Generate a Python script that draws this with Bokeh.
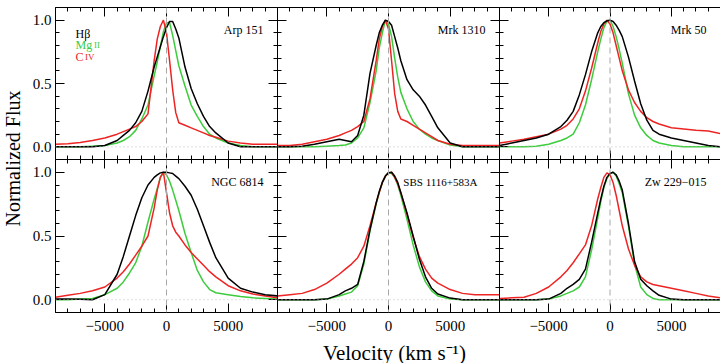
import math
from bokeh.plotting import figure
from bokeh.models import Range1d, LinearAxis, FixedTicker, Span, Label
from bokeh.layouts import gridplot, row, column
from bokeh.embed import file_html
from bokeh.resources import INLINE
from bokeh.core.properties import value

FONT = "Liberation Serif"
C_HB = "#000000"
C_MG = "#3ccc3c"
C_CIV = "#ee2424"

# velocity grid (km/s)
V = [-9000, -8000, -7000, -6000, -5000, -4000, -3500, -3000, -2500, -2000, -1500,
     -1000, -750, -500, -250, 0, 250, 500, 750, 1000, 1500, 2000, 2500, 3000,
     3500, 4000, 5000, 6000, 7000, 8000, 9000]

names = ["Arp 151", "Mrk 1310", "Mrk 50", "NGC 6814", "SBS 1116+583A", "Zw 229\u2212015"]
name_inset = [14, 14, 14, 14, 22, 14]
name_size = ["12px", "12px", "12px", "12px", "11px", "12px"]

hb_arp151 = [0, 0, 0, 0, 0.01, 0.05, 0.09, 0.13, 0.19, 0.28, 0.44, 0.63, 0.71, 0.79, 0.87, 0.94, 0.99, 0.99, 0.93, 0.86, 0.63, 0.46, 0.34, 0.24, 0.16, 0.11, 0.03, 0, 0, 0, 0]
mg_arp151 = [0, 0, 0, 0.005, 0.01, 0.03, 0.05, 0.08, 0.13, 0.22, 0.33, 0.56, 0.67, 0.79, 0.91, 0.98, 0.98, 0.88, 0.76, 0.64, 0.48, 0.33, 0.24, 0.16, 0.1, 0.07, 0.03, 0.01, 0, 0, 0]
civ_arp151 = [0.02, 0.025, 0.035, 0.05, 0.07, 0.1, 0.12, 0.14, 0.16, 0.2, 0.26, 0.68, 0.85, 0.95, 1.0, 0.9, 0.68, 0.45, 0.27, 0.19, 0.17, 0.15, 0.13, 0.11, 0.09, 0.075, 0.045, 0.03, 0.02, 0.02, 0.02]

hb_mrk1310 = [0, 0, 0.005, 0.02, 0.04, 0.06, 0.05, 0.04, 0.09, 0.25, 0.58, 0.8, 0.9, 0.96, 1.0, 0.99, 0.96, 0.87, 0.78, 0.68, 0.53, 0.45, 0.4, 0.33, 0.24, 0.15, 0.03, 0, 0, 0, 0]
mg_mrk1310 = [0, 0, 0, 0, 0.005, 0.01, 0.015, 0.03, 0.07, 0.15, 0.35, 0.6, 0.78, 0.9, 1.0, 0.97, 0.87, 0.7, 0.55, 0.43, 0.3, 0.2, 0.14, 0.1, 0.07, 0.05, 0.015, 0, 0, 0, 0]
civ_mrk1310 = [0.01, 0.01, 0.02, 0.04, 0.06, 0.09, 0.11, 0.13, 0.16, 0.2, 0.38, 0.68, 0.85, 0.95, 1.0, 0.93, 0.68, 0.42, 0.28, 0.22, 0.2, 0.17, 0.14, 0.11, 0.08, 0.05, 0.02, 0.01, 0.01, 0.01, 0.01]

hb_mrk50 = [0.01, 0.03, 0.05, 0.07, 0.1, 0.16, 0.21, 0.28, 0.41, 0.57, 0.75, 0.9, 0.95, 0.98, 0.995, 1.0, 0.99, 0.96, 0.92, 0.87, 0.71, 0.52, 0.34, 0.21, 0.13, 0.1, 0.07, 0.05, 0.03, 0.01, 0]
mg_mrk50 = [0, 0, 0, 0.005, 0.02, 0.05, 0.07, 0.1, 0.19, 0.33, 0.53, 0.75, 0.85, 0.94, 0.99, 1.0, 0.95, 0.87, 0.77, 0.66, 0.42, 0.25, 0.15, 0.09, 0.05, 0.03, 0.01, 0, 0, 0, 0]
civ_mrk50 = [0.03, 0.045, 0.06, 0.08, 0.1, 0.14, 0.17, 0.22, 0.3, 0.44, 0.62, 0.82, 0.91, 0.97, 1.0, 0.97, 0.9, 0.8, 0.7, 0.6, 0.45, 0.35, 0.28, 0.23, 0.2, 0.18, 0.15, 0.14, 0.13, 0.125, 0.105]

hb_ngc6814 = [0.005, 0.005, 0.003, 0.0, 0.04, 0.2, 0.34, 0.5, 0.66, 0.8, 0.9, 0.96, 0.98, 0.995, 1.0, 1.0, 0.995, 0.99, 0.97, 0.95, 0.89, 0.82, 0.71, 0.58, 0.45, 0.33, 0.17, 0.09, 0.06, 0.04, 0.03]
mg_ngc6814 = [0, 0, 0.005, 0.01, 0.04, 0.09, 0.14, 0.21, 0.29, 0.42, 0.61, 0.79, 0.87, 0.96, 1.0, 0.98, 0.93, 0.86, 0.78, 0.7, 0.52, 0.37, 0.23, 0.14, 0.08, 0.055, 0.04, 0.025, 0.015, 0.01, 0.005]
civ_ngc6814 = [0.02, 0.035, 0.05, 0.07, 0.1, 0.17, 0.22, 0.28, 0.35, 0.42, 0.5, 0.72, 0.86, 0.96, 1.0, 0.84, 0.68, 0.58, 0.53, 0.5, 0.43, 0.37, 0.32, 0.27, 0.22, 0.18, 0.11, 0.07, 0.045, 0.03, 0.015]

hb_sbs = [0, 0, 0, 0, 0.005, 0.04, 0.07, 0.09, 0.12, 0.3, 0.55, 0.76, 0.85, 0.92, 0.97, 0.995, 1.0, 0.97, 0.92, 0.84, 0.68, 0.5, 0.32, 0.18, 0.09, 0.045, 0.013, 0, 0, 0, 0]
mg_sbs = [0, 0, 0, 0, 0.005, 0.03, 0.045, 0.06, 0.11, 0.28, 0.54, 0.75, 0.84, 0.92, 0.97, 1.0, 0.99, 0.96, 0.9, 0.82, 0.63, 0.43, 0.26, 0.14, 0.07, 0.03, 0.005, 0, 0, 0, 0]
civ_sbs = [0.03, 0.04, 0.05, 0.08, 0.13, 0.2, 0.24, 0.28, 0.33, 0.42, 0.58, 0.76, 0.84, 0.92, 0.97, 0.995, 1.0, 0.96, 0.91, 0.84, 0.67, 0.49, 0.34, 0.24, 0.17, 0.13, 0.08, 0.05, 0.04, 0.04, 0.04]

hb_zw229 = [0, 0, 0, 0, 0.005, 0.05, 0.09, 0.12, 0.16, 0.24, 0.45, 0.68, 0.79, 0.89, 0.96, 0.99, 1.0, 0.98, 0.93, 0.86, 0.6, 0.3, 0.16, 0.11, 0.07, 0.035, 0.005, 0, 0, 0, 0]
mg_zw229 = [0, 0, 0, 0, 0.005, 0.03, 0.05, 0.07, 0.1, 0.18, 0.39, 0.64, 0.77, 0.88, 0.95, 0.99, 1.0, 0.97, 0.91, 0.84, 0.58, 0.28, 0.1, 0.04, 0.01, 0, 0, 0, 0, 0, 0]
civ_zw229 = [0.01, 0.015, 0.02, 0.05, 0.1, 0.18, 0.23, 0.29, 0.36, 0.43, 0.58, 0.79, 0.88, 0.96, 0.995, 0.98, 0.92, 0.82, 0.7, 0.58, 0.4, 0.27, 0.18, 0.14, 0.12, 0.11, 0.09, 0.07, 0.05, 0.03, 0.015]

hb_all = [hb_arp151, hb_mrk1310, hb_mrk50, hb_ngc6814, hb_sbs, hb_zw229]
mg_all = [mg_arp151, mg_mrk1310, mg_mrk50, mg_ngc6814, mg_sbs, mg_zw229]
civ_all = [civ_arp151, civ_mrk1310, civ_mrk50, civ_ngc6814, civ_sbs, civ_zw229]

x_major = [-5000, 0, 5000]
x_minor = [-9000, -8000, -7000, -6000, -4000, -3000, -2000, -1000, 1000, 2000, 3000, 4000, 6000, 7000, 8000, 9000]
y_major = [0, 0.5, 1.0]
y_minor = [-0.1, 0.1, 0.2, 0.3, 0.4, 0.6, 0.7, 0.8, 0.9, 1.1]
x_labels = {-5000: "\u22125000", 0: "0", 5000: "5000"}
y_labels = {0: "0.0", 0.5: "0.5", 1: "1.0"}

frame_w = [222, 222, 221]
frame_h = [152, 153]


def style_axis(ax, show, horizontal):
    ax.axis_line_color = "black"
    ax.axis_line_width = 1
    ax.major_tick_in = 9
    ax.major_tick_out = 0
    ax.minor_tick_in = 4
    ax.minor_tick_out = 0
    ax.major_tick_line_color = "black"
    ax.minor_tick_line_color = "black"
    if horizontal:
        ax.ticker = FixedTicker(ticks=x_major, minor_ticks=x_minor)
    else:
        ax.ticker = FixedTicker(ticks=y_major, minor_ticks=y_minor)
    if show:
        ax.major_label_text_font = FONT
        ax.major_label_text_font_size = "15px"
        ax.major_label_text_color = "black"
        ax.major_label_overrides = x_labels if horizontal else y_labels
        ax.major_label_standoff = 8 if horizontal else 4
    else:
        ax.major_label_text_font_size = "0px"
        ax.major_label_text_color = None
        ax.major_label_standoff = 0


panels = []
for r in range(2):
    row_list = []
    for c in range(3):
        i = r * 3 + c
        p = figure(frame_width=frame_w[c], frame_height=frame_h[r],
                   x_range=Range1d(-9000, 9000), y_range=Range1d(-0.1, 1.1),
                   output_backend="svg", toolbar_location=None,
                   min_border=0, outline_line_color=None,
                   background_fill_color="white", border_fill_color="white")
        p.min_border_left = 31 if c == 0 else 0
        p.min_border_top = 7 if r == 0 else 0
        p.min_border_bottom = 30 if r == 1 else 0
        p.grid.visible = False
        style_axis(p.xaxis[0], r == 1, True)
        style_axis(p.yaxis[0], c == 0, False)
        top = LinearAxis()
        style_axis(top, False, True)
        p.add_layout(top, "above")
        if c < 2:
            right = LinearAxis()
            style_axis(right, False, False)
            p.add_layout(right, "right")

        p.add_layout(Span(location=0, dimension="height", line_color="#a8a8a8",
                          line_dash="6 4", line_width=1))
        p.add_layout(Span(location=0, dimension="width", line_color="#c0c0c0",
                          line_dash="1 3", line_width=1))

        p.line(V, mg_all[i], line_color=C_MG, line_width=1.5)
        p.line(V, civ_all[i], line_color=C_CIV, line_width=1.5)
        p.line(V, hb_all[i], line_color=C_HB, line_width=1.5)

        p.add_layout(Label(x=9000, y=0.92, x_offset=-name_inset[i], text=names[i],
                           text_align="right", text_baseline="middle",
                           text_font=FONT, text_font_size=name_size[i], text_color="black"))
        if i == 0:
            p.add_layout(Label(x=-9000, y=0.888, x_offset=20, text="H\u03b2",
                               text_baseline="alphabetic", text_font=FONT,
                               text_font_size="12px", text_color=C_HB))
            p.add_layout(Label(x=-9000, y=0.804, x_offset=20, text="Mg",
                               text_baseline="alphabetic", text_font=FONT,
                               text_font_size="12px", text_color=C_MG))
            p.add_layout(Label(x=-9000, y=0.804, x_offset=38.5, text="II",
                               text_baseline="alphabetic", text_font=FONT,
                               text_font_size="9px", text_color=C_MG))
            p.add_layout(Label(x=-9000, y=0.711, x_offset=20, text="C",
                               text_baseline="alphabetic", text_font=FONT,
                               text_font_size="12px", text_color=C_CIV))
            p.add_layout(Label(x=-9000, y=0.711, x_offset=29.5, text="IV",
                               text_baseline="alphabetic", text_font=FONT,
                               text_font_size="9px", text_color=C_CIV))
        row_list.append(p)
    panels.append(row_list)

grid = gridplot(panels, toolbar_location=None)

ylab = figure(width=24, height=363, x_range=Range1d(0, 24), y_range=Range1d(363, 0),
              output_backend="svg", toolbar_location=None, min_border=0,
              x_axis_location=None, y_axis_location=None, outline_line_color=None)
ylab.grid.visible = False
ylab.text(x=[12], y=[158], text=["Normalized Flux"], angle=math.pi / 2,
          text_align="center", text_baseline="middle",
          text_font=value(FONT), text_font_size=value("20px"), text_color="black")

xlab = figure(width=696, height=21, x_range=Range1d(24, 720), y_range=Range1d(21, 0),
              output_backend="svg", toolbar_location=None, min_border=0,
              x_axis_location=None, y_axis_location=None, outline_line_color=None)
xlab.grid.visible = False
xlab.text(x=[394], y=[10], text=["Velocity (km s\u207b\u00b9)"],
          text_align="center", text_baseline="middle",
          text_font=value(FONT), text_font_size=value("21px"), text_color="black")

layout = row(ylab, column(grid, xlab))

open("out.html", "w").write(file_html(layout, INLINE))
